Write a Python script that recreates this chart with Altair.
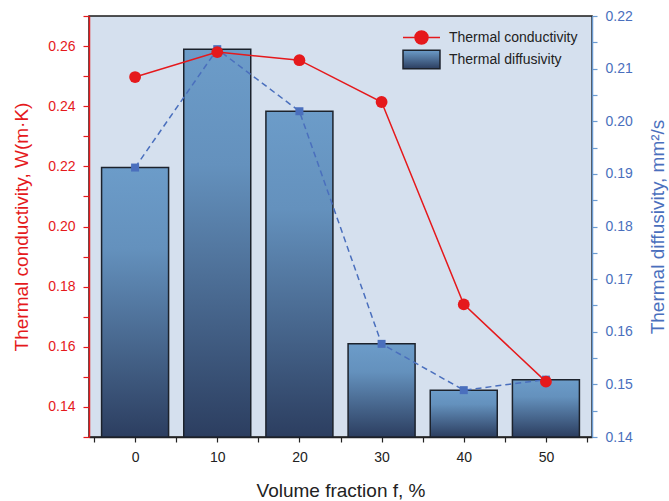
import altair as alt
import pandas as pd

# ---- data ----
fraction = [0, 10, 20, 30, 40, 50]
conductivity = [0.2497, 0.2580, 0.2553, 0.2414, 0.1741, 0.1484]
diffusivity = [0.1912, 0.2137, 0.2019, 0.1577, 0.1489, 0.1509]
series = ["Thermal conductivity", "Thermal diffusivity"]

x_ticks = [-5, 0, 5, 10, 15, 20, 25, 30, 35, 40, 45, 50, 55]
left_ticks = [0.13, 0.14, 0.15, 0.16, 0.17, 0.18, 0.19, 0.20, 0.21, 0.22,
              0.23, 0.24, 0.25, 0.26, 0.27]
right_ticks = [0.14, 0.145, 0.15, 0.155, 0.16, 0.165, 0.17, 0.175, 0.18,
               0.185, 0.19, 0.195, 0.20, 0.205, 0.21, 0.215, 0.22]

df = pd.DataFrame({
    "fraction": fraction,
    "conductivity": conductivity,
    "diffusivity": diffusivity,
    "series": [series[0]] * len(fraction),
})

RED = "#e5191c"
BLUE = "#4a6fbd"
BLUE_AXIS = "#6b9bd1"
FONT = "Liberation Sans"

bar_gradient = alt.LinearGradient(
    gradient="linear", x1=0, y1=0, x2=0, y2=1,
    stops=[
        alt.GradientStop(offset=0, color="#6c9cc9"),
        alt.GradientStop(offset=0.3, color="#6491bd"),
        alt.GradientStop(offset=1, color="#2c3e60"),
    ],
)

x_enc = alt.X(
    "fraction:Q",
    scale=alt.Scale(domain=[-5, 55], nice=False, zero=False),
    axis=alt.Axis(
        values=x_ticks,
        labelExpr="(datum.value >= 0 && datum.value <= 50 && datum.value % 10 == 0) ? datum.label : ''",
        title="Volume fraction f, %",
        grid=False, tickSize=5, labelPadding=8, titlePadding=17,
        domainColor="#222222", tickColor="#222222",
        labelColor="#222222", titleColor="#222222",
        labelFontSize=14, titleFontSize=19, titleFontWeight="normal",
        labelFont=FONT, titleFont=FONT, domainWidth=1.5, tickWidth=1.2,
        labelFlush=False, labelOverlap=False,
    ),
)

right_axis = alt.Axis(
    orient="right",
    values=right_ticks,
    labelExpr="(round(datum.value * 1000) % 10 == 0) ? format(datum.value, '.2f') : ''",
    title="Thermal diffusivity, mm²/s",
    titleAngle=270, titleBaseline="top",
    grid=False, tickSize=5, labelPadding=8, titlePadding=16,
    domainColor=BLUE_AXIS, tickColor=BLUE_AXIS,
    labelColor=BLUE, titleColor=BLUE,
    labelFontSize=14, titleFontSize=19, titleFontWeight="normal",
    labelFont=FONT, titleFont=FONT, domainWidth=1.5, tickWidth=1.2,
    labelFlush=False, labelOverlap=False,
)

left_axis = alt.Axis(
    orient="left",
    values=left_ticks,
    labelExpr="(round(datum.value * 100) % 2 == 0) ? format(datum.value, '.2f') : ''",
    title="Thermal conductivity, W(m·K)",
    grid=False, tickSize=6, labelPadding=8, titlePadding=16,
    domainColor=RED, tickColor=RED,
    labelColor=RED, titleColor=RED,
    labelFontSize=14, titleFontSize=19, titleFontWeight="normal",
    labelFont=FONT, titleFont=FONT, domainWidth=1.5, tickWidth=1.2,
    labelFlush=False, labelOverlap=False,
)

right_scale = alt.Scale(domain=[0.14, 0.22], nice=False, zero=False)
left_scale = alt.Scale(domain=[0.13, 0.27], nice=False, zero=False)

base = alt.Chart(df)

bars = base.mark_bar(
    size=67, fill=bar_gradient, stroke="#1c222c", strokeWidth=1.5
).encode(
    x=x_enc,
    y=alt.Y("diffusivity:Q", scale=right_scale, axis=right_axis),
    y2=alt.Y2Datum(0.14),
)

dashed = base.mark_line(
    color=BLUE, strokeDash=[6, 4], strokeWidth=1.5, interpolate="linear",
    point=alt.OverlayMarkDef(shape="square", size=64, filled=True,
                             color=BLUE, opacity=1),
).encode(
    x=x_enc,
    y=alt.Y("diffusivity:Q", scale=right_scale, axis=right_axis),
)

red_line = base.mark_line(
    color=RED, strokeWidth=1.5,
    point=alt.OverlayMarkDef(filled=True, size=140, opacity=1, color=RED),
).encode(
    x=x_enc,
    y=alt.Y("conductivity:Q", scale=left_scale, axis=left_axis),
)

# legend symbols (custom paths, unit = sqrt(symbolSize)/2 = 10.5 px)
line_shape = ("M-1.76,0H1.76M0.62,0A0.62,0.62,0,1,1,-0.62,0"
              "A0.62,0.62,0,1,1,0.62,0Z")
rect_shape = "M-1.76,-0.88H1.76V0.88H-1.76Z"
is_diff = "datum.value === 'Thermal diffusivity'"
fill_expr = (
    is_diff + " ? {gradient: 'linear', x1: 0, y1: 0, x2: 0, y2: 1, "
    "stops: [{offset: 0, color: '#6c9cc9'}, {offset: 1, color: '#2c3e60'}]} : '"
    + RED + "'"
)
stroke_expr = is_diff + " ? '#1c222c' : '" + RED + "'"

legend = alt.Legend(
    title=None, orient="none", legendX=321, legendY=10,
    labelFont=FONT, labelFontSize=14, labelColor="#222222",
    symbolSize=441, labelOffset=16, rowPadding=-1, padding=0,
    symbolStrokeWidth=1.5, symbolOpacity=1,
)

legend_layer = base.transform_filter("false").mark_point(
    filled=True, fill=alt.ExprRef(fill_expr), stroke=alt.ExprRef(stroke_expr),
    strokeWidth=1.5, size=441, opacity=1,
).encode(
    x=x_enc,
    y=alt.Y("conductivity:Q", scale=left_scale, axis=left_axis),
    shape=alt.Shape("series:N",
                    scale=alt.Scale(domain=series, range=[line_shape, rect_shape]),
                    legend=legend),
)

chart = alt.layer(
    alt.layer(bars, dashed), alt.layer(red_line, legend_layer)
).resolve_scale(
    y="independent"
).properties(
    width=503, height=421,
    padding={"left": 89, "top": 16, "right": 77, "bottom": 64},
    autosize="none",
    background="white",
).configure_view(
    fill="#d5e0ee", stroke="#1a1a1a", strokeWidth=1.5
)

chart.save("out.html", embed_options={"renderer": "svg", "actions": False})
